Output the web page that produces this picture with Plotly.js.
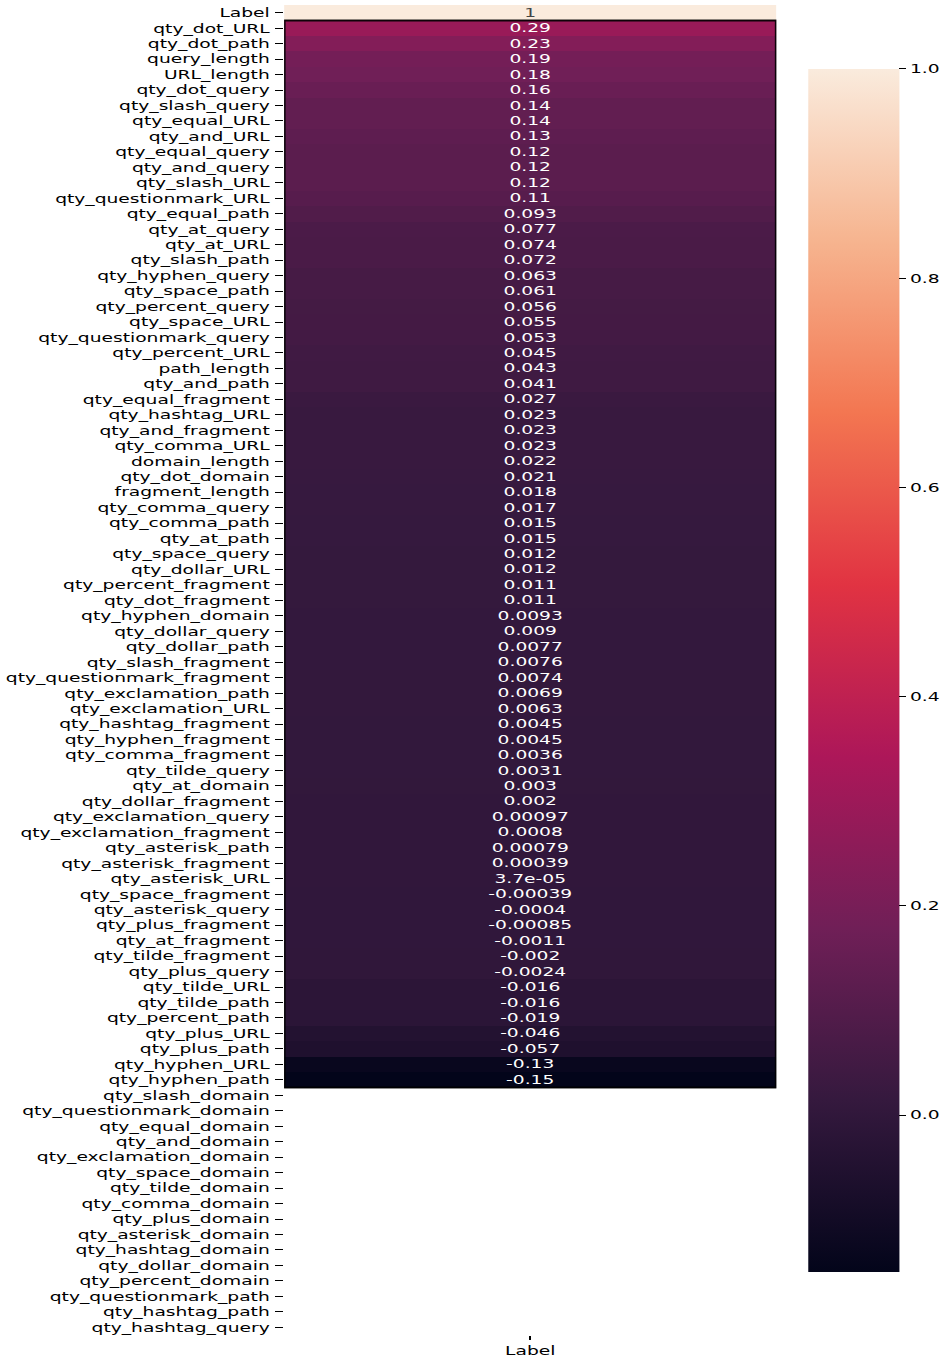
<!DOCTYPE html>
<html>
<head>
<meta charset="utf-8">
<script src="https://cdn.plot.ly/plotly-3.0.1.min.js"></script>
<style>
  html, body { margin: 0; padding: 0; background: #ffffff; overflow: hidden; }
  #wrap { width: 622px; height: 1358px; transform: scaleX(1.5193); transform-origin: 0 0; }
</style>
</head>
<body>
<div id="wrap"></div>
<script>
// ---- data ----
const features = [
  "Label", "qty_dot_URL", "qty_dot_path", "query_length", "URL_length", "qty_dot_query",
  "qty_slash_query", "qty_equal_URL", "qty_and_URL", "qty_equal_query", "qty_and_query",
  "qty_slash_URL", "qty_questionmark_URL", "qty_equal_path", "qty_at_query", "qty_at_URL",
  "qty_slash_path", "qty_hyphen_query", "qty_space_path", "qty_percent_query", "qty_space_URL",
  "qty_questionmark_query", "qty_percent_URL", "path_length", "qty_and_path", "qty_equal_fragment",
  "qty_hashtag_URL", "qty_and_fragment", "qty_comma_URL", "domain_length", "qty_dot_domain",
  "fragment_length", "qty_comma_query", "qty_comma_path", "qty_at_path", "qty_space_query",
  "qty_dollar_URL", "qty_percent_fragment", "qty_dot_fragment", "qty_hyphen_domain", "qty_dollar_query",
  "qty_dollar_path", "qty_slash_fragment", "qty_questionmark_fragment", "qty_exclamation_path", "qty_exclamation_URL",
  "qty_hashtag_fragment", "qty_hyphen_fragment", "qty_comma_fragment", "qty_tilde_query", "qty_at_domain",
  "qty_dollar_fragment", "qty_exclamation_query", "qty_exclamation_fragment", "qty_asterisk_path", "qty_asterisk_fragment",
  "qty_asterisk_URL", "qty_space_fragment", "qty_asterisk_query", "qty_plus_fragment", "qty_at_fragment",
  "qty_tilde_fragment", "qty_plus_query", "qty_tilde_URL", "qty_tilde_path", "qty_percent_path",
  "qty_plus_URL", "qty_plus_path", "qty_hyphen_URL", "qty_hyphen_path",
  "qty_slash_domain", "qty_questionmark_domain", "qty_equal_domain", "qty_and_domain", "qty_exclamation_domain",
  "qty_space_domain", "qty_tilde_domain", "qty_comma_domain", "qty_plus_domain", "qty_asterisk_domain",
  "qty_hashtag_domain", "qty_dollar_domain", "qty_percent_domain", "qty_questionmark_path", "qty_hashtag_path",
  "qty_hashtag_query"
];
const correlation = [
  1, 0.29, 0.23, 0.19, 0.18, 0.16,
  0.14, 0.14, 0.13, 0.12, 0.12,
  0.12, 0.11, 0.093, 0.077, 0.074,
  0.072, 0.063, 0.061, 0.056, 0.055,
  0.053, 0.045, 0.043, 0.041, 0.027,
  0.023, 0.023, 0.023, 0.022, 0.021,
  0.018, 0.017, 0.015, 0.015, 0.012,
  0.012, 0.011, 0.011, 0.0093, 0.009,
  0.0077, 0.0076, 0.0074, 0.0069, 0.0063,
  0.0045, 0.0045, 0.0036, 0.0031, 0.003,
  0.002, 0.00097, 0.0008, 0.00079, 0.00039,
  3.7e-05, -0.00039, -0.0004, -0.00085, -0.0011,
  -0.002, -0.0024, -0.016, -0.016, -0.019,
  -0.046, -0.057, -0.13, -0.15,
  null, null, null, null, null,
  null, null, null, null, null,
  null, null, null, null, null,
  null
];
const columnLabels = ["Label"];
const colorbarTicks = [0.0, 0.2, 0.4, 0.6, 0.8, 1.0];

// seaborn "rocket" colormap
const rocket = [
  [0.000, "#03051A"],
  [0.143, "#35193E"],
  [0.286, "#701F57"],
  [0.429, "#AD1759"],
  [0.571, "#E13342"],
  [0.714, "#F37651"],
  [0.857, "#F6B48F"],
  [1.000, "#FAEBDD"]
];

// python-like '.2g' formatting
function fmt2g(v) {
  if (v === null || v === undefined) return "";
  if (v === 0) return "0";
  const r = Number(v.toPrecision(2));
  const e = Math.floor(Math.log10(Math.abs(r)));
  if (e < -4 || e >= 2) {
    let [m, ex] = r.toExponential(1).split("e");
    if (m.includes(".")) m = m.replace(/0+$/, "").replace(/\.$/, "");
    const sign = ex[0] === "-" ? "-" : "+";
    let d = ex.replace(/[+-]/, "");
    if (d.length < 2) d = "0" + d;
    return m + "e" + sign + d;
  }
  let s = r.toFixed(Math.max(0, 1 - e));
  if (s.includes(".")) s = s.replace(/0+$/, "").replace(/\.$/, "");
  return s;
}

const z = correlation.map(v => [v]);
const txt = correlation.map(v => [fmt2g(v)]);

// dark outline around the block of real correlations (rows after "Label" with values)
let lastValued = 0;
correlation.forEach((v, i) => { if (v !== null) lastValued = i; });

const FONT = "DejaVu Sans, Verdana, sans-serif";

const trace = {
  type: "heatmap",
  x: columnLabels,
  y: features,
  z: z,
  text: txt,
  texttemplate: "%{text}",
  textfont: { family: FONT, size: 12.3 },
  colorscale: rocket,
  zmin: -0.15,
  zmax: 1.0,
  xgap: 0, ygap: 0,
  hoverongaps: false,
  colorbar: {
    thickness: 60,
    thicknessmode: "pixels",
    len: 1203,
    lenmode: "pixels",
    x: 1.0648,
    xanchor: "left",
    y: 0.9519,
    yanchor: "top",
    xpad: 0,
    ypad: 0,
    outlinewidth: 0,
    tickvals: colorbarTicks,
    ticktext: colorbarTicks.map(t => t.toFixed(1)),
    ticks: "outside",
    ticklen: 5,
    tickwidth: 1,
    tickcolor: "#000",
    tickfont: { family: FONT, size: 12.3, color: "#000" }
  }
};

const layout = {
  width: 622,
  height: 1358,
  margin: { l: 187, r: 111, t: 5, b: 23, pad: 0, autoexpand: false },
  paper_bgcolor: "#ffffff",
  plot_bgcolor: "#ffffff",
  font: { family: FONT, size: 12.3, color: "#000" },
  showlegend: false,
  xaxis: {
    type: "category",
    range: [-0.5, columnLabels.length - 0.5],
    autorange: false,
    showgrid: false, zeroline: false, showline: false,
    ticks: "outside", ticklen: 4, tickwidth: 1, tickcolor: "#000",
    tickfont: { family: FONT, size: 12.3, color: "#000" },
    automargin: false, fixedrange: true
  },
  yaxis: {
    type: "category",
    range: [features.length - 0.5, -0.5],
    autorange: false,
    showgrid: false, zeroline: false, showline: false,
    ticks: "outside", ticklen: 5, tickwidth: 1, tickcolor: "#000",
    ticklabelstandoff: 1,
    tickfont: { family: FONT, size: 12.3, color: "#000" },
    automargin: false, fixedrange: true
  },
  shapes: [{
    type: "rect",
    xref: "x", yref: "y",
    x0: -0.5, x1: columnLabels.length - 0.5,
    y0: 0.5, y1: lastValued + 0.5,
    line: { color: "rgba(0,0,0,0.9)", width: 2 },
    fillcolor: "rgba(0,0,0,0)",
    layer: "above"
  }]
};

Plotly.newPlot("wrap", [trace], layout, { displayModeBar: false, staticPlot: true });
</script>
</body>
</html>
